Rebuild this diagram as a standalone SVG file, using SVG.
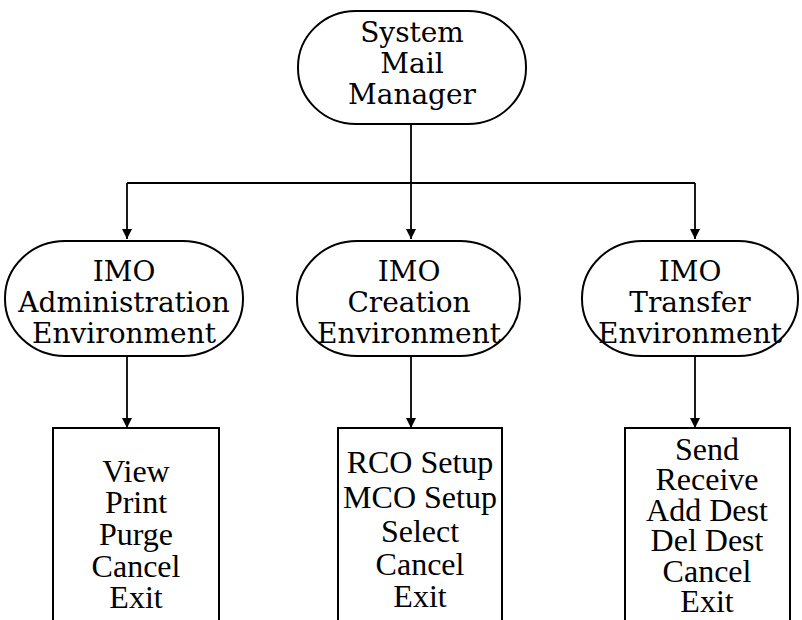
<svg xmlns="http://www.w3.org/2000/svg" width="802" height="620" viewBox="0 0 802 620">
<style>
.n{fill:#fff;stroke:#000;stroke-width:2}
.b{fill:#fff;stroke:#000;stroke-width:2}
.c{fill:none;stroke:#000;stroke-width:1.8}
.t{font-family:"DejaVu Serif","Liberation Serif",serif;font-size:28px;text-anchor:middle;fill:#000}
.m{font-family:"Liberation Serif","DejaVu Serif",serif;font-size:32px;text-anchor:middle;fill:#000}
</style>
<defs>
<marker id="ah" viewBox="0 0 10 12" refX="10" refY="6" markerWidth="10" markerHeight="12" markerUnits="userSpaceOnUse" orient="auto">
<path d="M0,1 L10,6 L0,11 Z" fill="#000"/>
</marker>
</defs>
<g id="connectors">
<path class="c" d="M411,125 V183"/>
<path class="c" d="M127,183 H695"/>
<path class="c" d="M127,183 V239" marker-end="url(#ah)"/>
<path class="c" d="M411,183 V239" marker-end="url(#ah)"/>
<path class="c" d="M695,183 V239" marker-end="url(#ah)"/>
<path class="c" d="M127,356 V428" marker-end="url(#ah)"/>
<path class="c" d="M411,356 V428" marker-end="url(#ah)"/>
<path class="c" d="M695,356 V428" marker-end="url(#ah)"/>
</g>
<g id="system-mail-manager">
<rect class="n" x="298" y="11" width="228" height="113" rx="58" ry="56"/>
<text class="t" x="412" y="42">System</text>
<text class="t" x="412" y="73">Mail</text>
<text class="t" x="412" y="104">Manager</text>
</g>
<g id="imo-administration">
<rect class="n" x="5" y="241" width="238" height="115" rx="60" ry="57"/>
<text class="t" x="124" y="281">IMO</text>
<text class="t" x="124" y="312">Administration</text>
<text class="t" x="124" y="343">Environment</text>
</g>
<g id="imo-creation">
<rect class="n" x="297" y="241" width="223" height="115" rx="60" ry="57"/>
<text class="t" x="409" y="281">IMO</text>
<text class="t" x="409" y="312">Creation</text>
<text class="t" x="409" y="343">Environment</text>
</g>
<g id="imo-transfer">
<rect class="n" x="582" y="241" width="216" height="115" rx="60" ry="57"/>
<text class="t" x="690" y="281">IMO</text>
<text class="t" x="690" y="312">Transfer</text>
<text class="t" x="690" y="343">Environment</text>
</g>
<g id="admin-menu">
<path class="b" d="M53,621 V428 H219 V621"/>
<text class="m" x="136" y="482">View</text>
<text class="m" x="136" y="513">Print</text>
<text class="m" x="136" y="545">Purge</text>
<text class="m" x="136" y="577">Cancel</text>
<text class="m" x="136" y="608">Exit</text>
</g>
<g id="creation-menu">
<path class="b" d="M338,621 V428 H502 V621"/>
<text class="m" x="420" y="473">RCO Setup</text>
<text class="m" x="420" y="508">MCO Setup</text>
<text class="m" x="420" y="542">Select</text>
<text class="m" x="420" y="575">Cancel</text>
<text class="m" x="420" y="607">Exit</text>
</g>
<g id="transfer-menu">
<path class="b" d="M625,621 V428 H790 V621"/>
<text class="m" x="707" y="460">Send</text>
<text class="m" x="707" y="490">Receive</text>
<text class="m" x="707" y="521">Add Dest</text>
<text class="m" x="707" y="551">Del Dest</text>
<text class="m" x="707" y="582">Cancel</text>
<text class="m" x="707" y="612">Exit</text>
</g>
</svg>
